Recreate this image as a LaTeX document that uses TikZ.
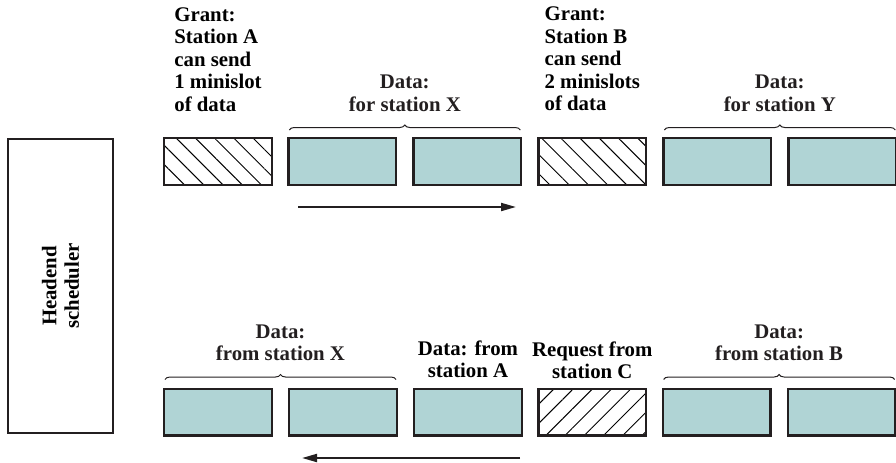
\documentclass[tikz,border=0pt]{standalone}
\usepackage{fontspec}
\setmainfont{Liberation Serif}
\usetikzlibrary{positioning,arrows.meta,decorations.pathreplacing,patterns.meta}
\usepackage{xcolor}
\definecolor{slotteal}{HTML}{B0D4D5}
\definecolor{slotline}{HTML}{231F20}
\tikzset{
  slot/.style={
    draw=slotline, line width=1.2pt,
    minimum width=53.8pt, minimum height=23.3pt, inner sep=0pt
  },
  dataslot/.style={
    slot, fill=slotteal
  },
  grantslot/.style={
    slot, pattern={Lines[angle=-45,distance=6.8pt,line width=0.5pt]}
  },
  reqslot/.style={
    slot, pattern={Lines[angle=45,distance=6.8pt,line width=0.5pt]}
  },
  lbl/.style={
    font=\fontsize{10.4}{11.2}\selectfont\bfseries, inner sep=0pt
  },
  brc/.style={
    decorate, decoration={brace, amplitude=2.5pt}, line width=0.5pt, slotline
  },
  flow/.style={
    -{Triangle[length=7.5pt,width=4pt]}, line width=1pt, slotline
  }
}

\begin{document}
\begin{tikzpicture}[x=0.5pt, y=-0.5pt]
\useasboundingbox (0,0) rectangle (896,462);

% headend
\node[slot, rotate=90, minimum width=147pt, minimum height=52.3pt,
  lbl, align=center] (head) at (60.5,286) {Headend\\scheduler};

% downstream slots
\node[grantslot] (gA) at (218,161.5) {};
\node[dataslot, right=7.5pt of gA] (dX1) {};
\node[dataslot, right=7.5pt of dX1] (dX2) {};
\node[grantslot, right=7.5pt of dX2] (gB) {};
\node[dataslot, right=7.5pt of gB] (dY1) {};
\node[dataslot, right=7.5pt of dY1] (dY2) {};

% upstream slots
\node[dataslot] (uX1) at (218,412) {};
\node[dataslot, right=7.5pt of uX1] (uX2) {};
\node[dataslot, right=7.5pt of uX2] (uA) {};
\node[reqslot, right=7.5pt of uA] (rC) {};
\node[dataslot, right=7.5pt of rC] (uB1) {};
\node[dataslot, right=7.5pt of uB1] (uB2) {};

% labels
\node[lbl, align=left, above=13pt of gA] (tgA) {Grant:\\Station A\\can send\\1 minislot\\of data};
\node[lbl, align=left, above=13pt of gB] (tgB) {Grant:\\Station B\\can send\\2 minislots\\of data};
\node[lbl, align=center, above=4.5pt of uA] (tuA) {Data: from\\station A};
\node[lbl, align=center, above=4.5pt of rC] (trC) {Request from\\station C};

% braces
\draw[brc] ([xshift=1pt,yshift=3.5pt]dX1.north west) -- ([xshift=-1pt,yshift=3.5pt]dX2.north east)
  node[lbl, align=center, midway, above=9pt] (tdX) {Data:\\for station X};
\draw[brc] ([xshift=1pt,yshift=3.5pt]dY1.north west) -- ([xshift=-1pt,yshift=3.5pt]dY2.north east)
  node[lbl, align=center, midway, above=9pt] (tdY) {Data:\\for station Y};
\draw[brc] ([xshift=1pt,yshift=4pt]uX1.north west) -- ([xshift=-1pt,yshift=4pt]uX2.north east)
  node[lbl, align=center, midway, above=9pt] (tuX) {Data:\\from station X};
\draw[brc] ([xshift=1pt,yshift=4pt]uB1.north west) -- ([xshift=-1pt,yshift=4pt]uB2.north east)
  node[lbl, align=center, midway, above=9pt] (tuB) {Data:\\from station B};

% direction arrows
\coordinate (fwdA) at (298,207);
\coordinate (fwdB) at (516,207);
\coordinate (bwdA) at (520,458);
\coordinate (bwdB) at (302,458);
\draw[flow] (fwdA) -- (fwdB);
\draw[flow] (bwdA) -- (bwdB);
\end{tikzpicture}
\end{document}
